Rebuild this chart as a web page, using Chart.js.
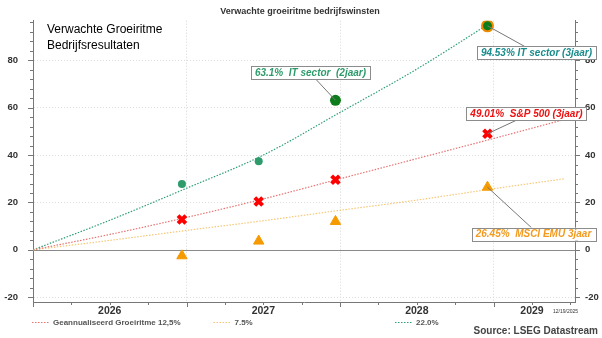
<!DOCTYPE html>
<html>
<head>
<meta charset="utf-8">
<script src="https://cdn.jsdelivr.net/npm/chart.js@4"></script>
<style>
  html, body { margin: 0; padding: 0; background: #fff; }
  #wrap { width: 602px; height: 338px; }
</style>
</head>
<body>
<div id="wrap"><canvas id="chart" width="602" height="338"></canvas></div>
<script>
// Reference curves (annualised growth), x = decimal year
const curveYears = [2026, 2026.5, 2027, 2027.5, 2028, 2028.5, 2029, 2029.46];
const rate125 = [0, 6.5, 13.7, 21.5, 30, 38.5, 47, 55];
const rate75 = [0, 4, 8.2, 12.3, 16.7, 21, 25.8, 30];
const rate22Years = [2026, 2026.5, 2027, 2027.5, 2028, 2028.5, 2028.96];
const rate22 = [0, 12.5, 26, 40, 58, 76.3, 95];

// Expected cumulative earnings growth (%)
const pointYears = [2026.97, 2027.47, 2027.97, 2028.96];
const itSector = [27.8, 37.4, 63.1, 94.53];
const sp500 = [12.8, 20.4, 29.6, 49.01];
const msciEmu = [-2.5, 3.7, 12, 26.45];

const legendLabels = ['Geannualiseerd Groeiritme 12,5%', '7.5%', '22.0%'];
const calloutLabels = ['63.1%  IT sector  (2jaar)', '94.53% IT sector (3jaar)', '49.01%  S&P 500 (3jaar)', '26.45%  MSCI EMU 3jaar'];
const yearLabels = { 2026.5: '2026', 2027.5: '2027', 2028.5: '2028', 2029.25: '2029' };

const FONT = "'Liberation Sans', Arial, sans-serif";
const xy = (xs, ys) => xs.map((x, i) => ({ x, y: ys[i] }));

// callout boxes: which point, where the box sits relative to it, text colour
const callouts = [
  { ds: 3, idx: 2, dx: -25, dy: -28, ex: 5, color: '#2e9b6b' },
  { ds: 3, idx: 3, dx: 49, dy: 27, ex: -12, color: '#1b8c8c' },
  { ds: 4, idx: 3, dx: 39, dy: -20, ex: -10, color: '#ee1111' },
  { ds: 5, idx: 3, dx: 46, dy: 47, ex: -2, color: '#f39a1e' }
];

const decor = {
  id: 'decor',
  beforeDatasetsDraw(chart) {
    const { ctx, chartArea: a, scales: { y } } = chart;
    const y0 = Math.round(y.getPixelForValue(0)) + 0.5;
    ctx.save();
    ctx.strokeStyle = '#8a8a8a';
    ctx.lineWidth = 1;
    ctx.beginPath();
    ctx.moveTo(a.left, y0);
    ctx.lineTo(a.right, y0);
    ctx.stroke();
    ctx.restore();
  },
  afterDraw(chart) {
    const { ctx, chartArea: a, scales: { x, y } } = chart;
    ctx.save();

    // tick marks (major + minor)
    ctx.strokeStyle = '#777';
    ctx.lineWidth = 1;
    ctx.beginPath();
    y.ticks.forEach(t => {
      const len = t.value % 20 === 0 ? 5 : 3;
      const py = Math.round(y.getPixelForValue(t.value)) + 0.5;
      ctx.moveTo(a.left - len, py); ctx.lineTo(a.left, py);
      ctx.moveTo(a.right, py); ctx.lineTo(a.right + len, py);
    });
    x.ticks.forEach(t => {
      const len = Number.isInteger(t.value) ? 5 : 3;
      const px = Math.round(x.getPixelForValue(t.value)) + 0.5;
      ctx.moveTo(px, a.bottom); ctx.lineTo(px, a.bottom + len);
    });
    ctx.stroke();

    // titles
    ctx.fillStyle = '#333';
    ctx.font = `bold 9px ${FONT}`;
    ctx.textAlign = 'center';
    ctx.textBaseline = 'middle';
    ctx.fillText('Verwachte groeiritme bedrijfswinsten', 300, 12);

    ctx.fillStyle = '#000';
    ctx.font = `12px ${FONT}`;
    ctx.textAlign = 'left';
    ctx.fillText('Verwachte Groeiritme', 47, 30);
    ctx.fillText('Bedrijfsresultaten', 47, 46);

    // date stamp
    ctx.fillStyle = '#333';
    ctx.font = `5px ${FONT}`;
    ctx.fillText('12/19/2025', 553, 312);

    // source
    ctx.fillStyle = '#444';
    ctx.font = `bold 10px ${FONT}`;
    ctx.textAlign = 'right';
    ctx.fillText('Source: LSEG Datastream', 598, 331);

    // legend
    ctx.font = `bold 8px ${FONT}`;
    ctx.textAlign = 'left';
    [0, 1, 2].forEach(i => {
      const ds = chart.data.datasets[i];
      const lx = 32 + i * 181.5, ly = 322.5;
      ctx.strokeStyle = ds.borderColor;
      ctx.lineWidth = 1.2;
      ctx.setLineDash([1.5, 1.5]);
      ctx.beginPath();
      ctx.moveTo(lx, ly); ctx.lineTo(lx + 18, ly);
      ctx.stroke();
      ctx.setLineDash([]);
      ctx.fillStyle = '#555';
      ctx.fillText(ds.label, lx + 21, ly);
    });

    // callouts
    ctx.font = `italic bold 10px ${FONT}`;
    callouts.forEach((c, i) => {
      const pt = chart.getDatasetMeta(c.ds).data[c.idx];
      const text = calloutLabels[i];
      const w = ctx.measureText(text).width + 8, h = 13;
      const cx = pt.x + c.dx, cy = pt.y + c.dy;
      const edgeY = c.dy > 0 ? cy - h / 2 : cy + h / 2;
      ctx.strokeStyle = '#777';
      ctx.lineWidth = 1;
      ctx.beginPath();
      ctx.moveTo(pt.x, pt.y);
      ctx.lineTo(cx + c.ex, edgeY);
      ctx.stroke();
      ctx.fillStyle = '#fff';
      ctx.fillRect(cx - w / 2, cy - h / 2, w, h);
      ctx.strokeStyle = '#8c8c8c';
      ctx.strokeRect(Math.round(cx - w / 2) + 0.5, Math.round(cy - h / 2) + 0.5, Math.round(w), h);
      ctx.fillStyle = c.color;
      ctx.textAlign = 'center';
      ctx.fillText(text, cx, cy + 0.5);
    });

    ctx.restore();
  }
};

const curve = (label, xs, ys, color) => ({
  label,
  data: xy(xs, ys),
  showLine: true,
  borderColor: color,
  borderWidth: 1.2,
  borderDash: [1.5, 1.5],
  pointRadius: 0,
  cubicInterpolationMode: 'monotone',
  order: 2
});

// explicit tick lists: every 4 on y (labels on multiples of 20), every quarter on x
const stepTicks = (from, to, step) => s => {
  const out = [];
  for (let v = from; v <= to + 1e-9; v += step) out.push({ value: Math.round(v * 100) / 100 });
  s.ticks = out;
};

const yTicks = (padding) => ({
  autoSkip: false,
  padding,
  color: '#333',
  font: { family: FONT, size: 9.5, weight: 'bold' },
  callback: v => (v % 20 === 0 ? v : '')
});

new Chart(document.getElementById('chart'), {
  type: 'scatter',
  plugins: [decor],
  data: {
    datasets: [
      curve(legendLabels[0], curveYears, rate125, '#e87474'),
      curve(legendLabels[1], curveYears, rate75, '#f6c878'),
      curve(legendLabels[2], rate22Years, rate22, '#2f9e78'),
      {
        label: 'IT sector',
        data: xy(pointYears, itSector),
        pointStyle: 'circle',
        pointRadius: [4, 4, 5.5, 5.5],
        backgroundColor: ['#2e9b6b', '#2e9b6b', '#0d7d1c', '#0d7d1c'],
        borderColor: ['#2e9b6b', '#2e9b6b', '#0d7d1c', '#f08a00'],
        borderWidth: [0, 0, 0, 2],
        order: 0
      },
      {
        label: 'S&P 500',
        data: xy(pointYears, sp500),
        pointStyle: 'crossRot',
        pointRadius: 5.5,
        borderColor: '#ff0000',
        borderWidth: 4,
        order: 0
      },
      {
        label: 'MSCI EMU',
        data: xy(pointYears, msciEmu),
        pointStyle: 'triangle',
        pointRadius: 6,
        backgroundColor: '#f59a00',
        borderColor: '#f59a00',
        borderWidth: 1,
        order: 0
      }
    ]
  },
  options: {
    responsive: false,
    animation: false,
    devicePixelRatio: 1,
    layout: { padding: { top: 17, left: 0, right: 0, bottom: 0 } },
    plugins: { legend: { display: false }, tooltip: { enabled: false } },
    scales: {
      x: {
        type: 'linear',
        min: 2026,
        max: 2029.53,
        afterBuildTicks: stepTicks(2026, 2029.5, 0.25),
        afterFit: s => { s.height = 36; },
        grid: {
          drawTicks: false,
          color: c => (c.tick && Number.isInteger(c.tick.value) && c.tick.value > 2026 ? '#d6d6d6' : 'transparent')
        },
        border: { display: true, color: '#777', dash: [1, 2] },
        ticks: {
          autoSkip: false,
          maxRotation: 0,
          minRotation: 0,
          padding: 3,
          color: '#333',
          font: { family: FONT, size: 10.5, weight: 'bold' },
          callback: v => yearLabels[v] || ''
        }
      },
      y: {
        position: 'left',
        min: -22,
        max: 96.7,
        afterBuildTicks: stepTicks(-20, 96, 4),
        afterFit: s => { s.width = 33; },
        grid: {
          drawTicks: false,
          color: c => (c.tick && c.tick.value % 20 === 0 && c.tick.value !== 0 ? '#dcdcdc' : 'transparent')
        },
        border: { display: true, color: '#777', dash: [1, 2] },
        ticks: yTicks(15)
      },
      y2: {
        position: 'right',
        min: -22,
        max: 96.7,
        afterBuildTicks: stepTicks(-20, 96, 4),
        afterFit: s => { s.width = 27; },
        grid: { drawTicks: false, drawOnChartArea: false },
        border: { display: true, color: '#777' },
        ticks: yTicks(10)
      }
    }
  }
});
</script>
</body>
</html>
